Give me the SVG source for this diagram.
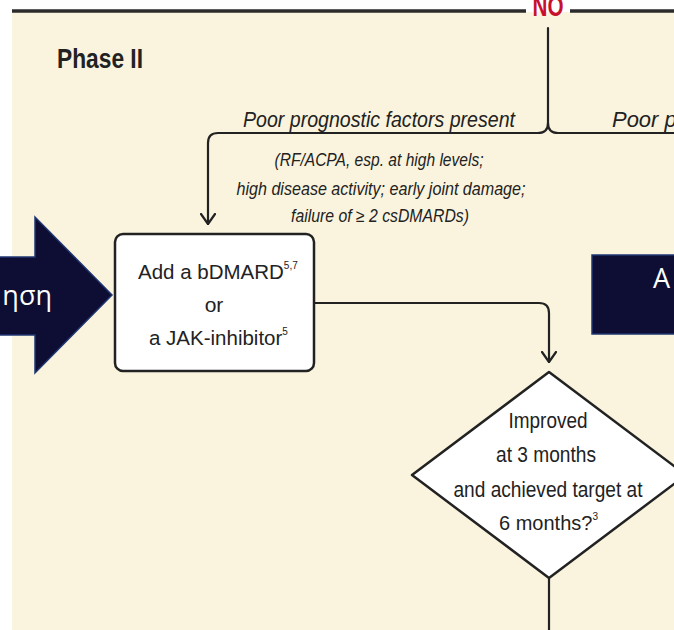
<svg xmlns="http://www.w3.org/2000/svg" width="674" height="630" viewBox="0 0 674 630">
<defs>
<style>
.t{font-family:"Liberation Sans",Arial,sans-serif;fill:#222;}
.it{font-style:italic;}
.ln{fill:none;stroke:#222;stroke-width:2.2;stroke-linecap:round;stroke-linejoin:round;}
.nav{fill:#0e0e34;stroke:#1f3672;stroke-width:1.5;}
.wt{font-family:"Open Sans","Noto Sans",sans-serif;fill:#fff;}
.sup{font-size:10px;}
</style>
<marker id="ah" viewBox="0 0 16 12" refX="8" refY="11" markerWidth="16" markerHeight="12" markerUnits="userSpaceOnUse" orient="0">
<path d="M1,1 L8,11 L15,1" fill="none" stroke="#222" stroke-width="2.2" stroke-linecap="round" stroke-linejoin="round"/>
</marker>
</defs>
<rect x="0" y="0" width="674" height="630" fill="#fff"/>
<rect x="12" y="12" width="662" height="618" fill="#FAF4DE"/>
<g id="frame">
<line x1="12" y1="11" x2="526" y2="11" stroke="#2b2b2b" stroke-width="3.5"/>
<line x1="570" y1="11" x2="674" y2="11" stroke="#2b2b2b" stroke-width="3.5"/>
<text x="548" y="16" text-anchor="middle" font-family="Liberation Sans,Arial,sans-serif" font-weight="bold" font-size="30" fill="#c8102e" textLength="31" lengthAdjust="spacingAndGlyphs">NO</text>
<text class="t" x="57" y="68" font-weight="bold" font-size="28" textLength="86" lengthAdjust="spacingAndGlyphs">Phase II</text>
</g>
<g id="connectors">
<path class="ln" d="M548,28 V123 Q548,133 538,133 H218 Q208,133 208,143 V224" marker-end="url(#ah)"/>
<path class="ln" d="M548,123 Q548,133 558,133 H676"/>
<path class="ln" d="M315,303 H539 Q549,303 549,313 V362" marker-end="url(#ah)"/>
<path class="ln" d="M549,578 V632"/>
</g>
<g id="labels">
<text class="t it" x="379" y="127" text-anchor="middle" font-size="22" textLength="272" lengthAdjust="spacingAndGlyphs">Poor prognostic factors present</text>
<text class="t it" x="612" y="127" font-size="22" textLength="72" lengthAdjust="spacingAndGlyphs">Poor pr</text>
<text class="t it" x="379" y="166" text-anchor="middle" font-size="18" textLength="209" lengthAdjust="spacingAndGlyphs">(RF/ACPA, esp. at high levels;</text>
<text class="t it" x="381" y="195" text-anchor="middle" font-size="18" textLength="289" lengthAdjust="spacingAndGlyphs">high disease activity; early joint damage;</text>
<text class="t it" x="380" y="222" text-anchor="middle" font-size="18" textLength="178" lengthAdjust="spacingAndGlyphs">failure of ≥ 2 csDMARDs)</text>
</g>
<g id="node-bdmard">
<rect x="115" y="234" width="199" height="137" rx="8" fill="#fff" stroke="#222" stroke-width="2.5"/>
<text class="t" x="138" y="279" font-size="20.5">Add a bDMARD<tspan class="sup" dy="-10">5,7</tspan></text>
<text class="t" x="214" y="312" text-anchor="middle" font-size="21">or</text>
<text class="t" x="149" y="345" font-size="20.5">a JAK-inhibitor<tspan class="sup" dy="-10">5</tspan></text>
</g>
<g id="node-decision">
<path d="M549,372 L686,475 L549,578 L412,475 Z" fill="#fff" stroke="#222" stroke-width="2.5" stroke-linejoin="round"/>
<text class="t" x="548" y="428" text-anchor="middle" font-size="22" textLength="79" lengthAdjust="spacingAndGlyphs">Improved</text>
<text class="t" x="546" y="462" text-anchor="middle" font-size="22" textLength="100" lengthAdjust="spacingAndGlyphs">at 3 months</text>
<text class="t" x="548" y="497" text-anchor="middle" font-size="22" textLength="189" lengthAdjust="spacingAndGlyphs">and achieved target at</text>
<text class="t" x="499" y="530" font-size="20">6 months?<tspan class="sup" dy="-10">3</tspan></text>
</g>
<g id="node-left-arrow">
<path class="nav" d="M-2,257 H35 V217 L112,295 L35,373 V335 H-2 Z"/>
<text class="wt" x="52" y="305" text-anchor="end" font-size="27">ηση</text>
</g>
<g id="node-right-box">
<rect class="nav" x="592" y="255" width="90" height="79"/>
<text class="wt" x="653" y="288" font-size="27">A</text>
</g>
</svg>
